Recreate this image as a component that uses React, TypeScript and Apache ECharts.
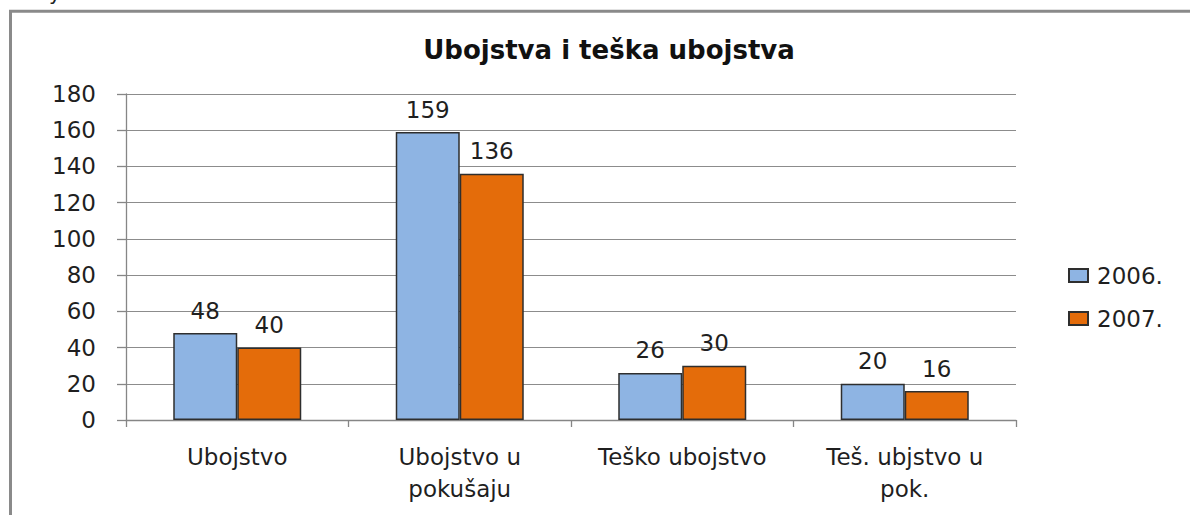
import React, { useEffect, useRef } from "react";
import * as echarts from "echarts";

const categories = ["Ubojstvo", "Ubojstvo u\npokušaju", "Teško ubojstvo", "Teš. ubjstvo u\npok."];
const series2006 = [48, 159, 26, 20];
const series2007 = [40, 136, 30, 16];
const seriesNames = ["2006.", "2007."];
const titleText = "Ubojstva i teška ubojstva";

const FONT = "DejaVu Sans";
const TEXT = "#1f1f1f";
const AXIS = "#868686";

export default function App() {
  const ref = useRef<HTMLDivElement>(null);
  useEffect(() => {
    if (!ref.current) return;
    const chart = echarts.init(ref.current, null, { renderer: "svg" });
    const barStyle = (color: string) => ({
      color,
      borderColor: "#2e2e2e",
      borderWidth: 1.5,
    });
    const label = {
      show: true,
      position: "top" as const,
      distance: 11,
      fontFamily: FONT,
      fontSize: 23,
      color: TEXT,
    };
    chart.setOption({
      animation: false,
      backgroundColor: "#ffffff",
      textStyle: { fontFamily: FONT },
      title: {
        text: titleText,
        left: 609,
        top: 37,
        padding: 0,
        textAlign: "center",
        textStyle: { fontFamily: FONT, fontSize: 26, fontWeight: "bold", color: "#111" },
      },
      graphic: [
        {
          type: "rect",
          shape: { x: 10.5, y: 11.3, width: 1300, height: 700 },
          style: { fill: "none", stroke: "#8a8a8a", lineWidth: 3 },
          silent: true,
        },
        {
          type: "text",
          x: 49,
          y: -17,
          style: { text: "y", fontFamily: FONT, fontSize: 20, fill: "#222" },
          silent: true,
        },
      ],
      legend: {
        orient: "vertical",
        left: 1068,
        top: 264,
        padding: 0,
        itemWidth: 19,
        itemHeight: 13,
        itemGap: 20,
        icon: "rect",
        textStyle: { fontFamily: FONT, fontSize: 23, color: TEXT, padding: [0, 0, 0, 4] },
        data: seriesNames,
      },
      grid: {
        left: 126,
        right: 174,
        top: 94,
        bottom: 95,
        outerBoundsMode: "none",
        containLabel: false,
      },
      xAxis: {
        type: "category",
        data: categories,
        axisLine: { show: true, lineStyle: { color: AXIS, width: 1.3 } },
        axisTick: { show: true, length: 7, lineStyle: { color: AXIS, width: 1.3 } },
        axisLabel: {
          margin: 21,
          fontFamily: FONT,
          fontSize: 23,
          lineHeight: 32,
          color: TEXT,
          interval: 0,
        },
      },
      yAxis: {
        type: "value",
        min: 0,
        max: 180,
        interval: 20,
        axisLine: { show: true, lineStyle: { color: AXIS, width: 1.3 } },
        axisTick: { show: true, length: 9, lineStyle: { color: AXIS, width: 1.3 } },
        axisLabel: { margin: 30, fontFamily: FONT, fontSize: 23, color: TEXT },
        splitLine: { show: true, lineStyle: { color: "#8c8c8c", width: 1 } },
      },
      series: [
        {
          name: seriesNames[0],
          type: "bar",
          data: series2006,
          barWidth: 64,
          barGap: "0%",
          itemStyle: barStyle("#8eb4e3"),
          label,
        },
        {
          name: seriesNames[1],
          type: "bar",
          data: series2007,
          barWidth: 64,
          barGap: "0%",
          itemStyle: barStyle("#e46c0a"),
          label,
        },
      ],
    });
    return () => chart.dispose();
  }, []);
  return (
    <div
      ref={ref}
      style={{ position: "absolute", left: 0, top: 0, width: 1190, height: 515 }}
    />
  );
}
